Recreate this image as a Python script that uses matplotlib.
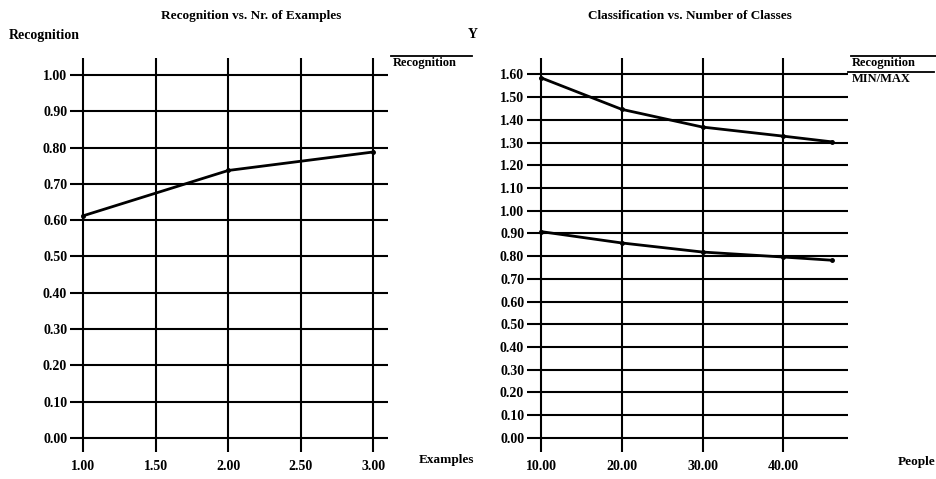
import matplotlib.pyplot as plt

plt.rcParams["font.family"] = ["Liberation Serif", "DejaVu Serif"]
plt.rcParams["font.weight"] = "bold"

# left chart: recognition vs. number of examples
examples = [1.0, 2.0, 3.0]
recognition = [0.612, 0.737, 0.788]
examples_ticks = [1.0, 1.5, 2.0, 2.5, 3.0]
left_yticks = [i / 10 for i in range(11)]

# right chart: classification vs. number of classes
people = [10, 20, 30, 40, 46]
rec_max = [1.585, 1.446, 1.368, 1.328, 1.303]
rec_min = [0.908, 0.858, 0.818, 0.796, 0.782]
people_ticks = [10, 20, 30, 40]
right_yticks = [i / 10 for i in range(17)]

W, H = 937, 479
fig = plt.figure(figsize=(W / 100, H / 100), dpi=100)


def fx(px):
    return px / W


def fy(py):
    return 1 - py / H


def style_axis(ax):
    for side in ax.spines.values():
        side.set_visible(False)
    ax.grid(True, color="black", linewidth=1.5)
    ax.set_axisbelow(True)
    ax.tick_params(length=0, labelsize=10, pad=2)
    for lab in ax.get_xticklabels() + ax.get_yticklabels():
        lab.set_fontweight("bold")
    ax.tick_params(axis="x", pad=6)


ax1 = fig.add_axes([fx(70), fy(452), fx(388 - 70), (452 - 58) / H])
ax1.plot(examples, recognition, color="black", linewidth=2, marker="o", markersize=2.5)
ax1.set_xlim(0.91, 3.10)
ax1.set_ylim(-0.039, 1.047)
ax1.set_xticks(examples_ticks)
ax1.set_xticklabels([f"{v:.2f}" for v in examples_ticks])
ax1.set_yticks(left_yticks)
ax1.set_yticklabels([f"{v:.2f}" for v in left_yticks])
style_axis(ax1)

ax2 = fig.add_axes([fx(527), fy(452), fx(848 - 527), (452 - 58) / H])
ax2.plot(people, rec_max, color="black", linewidth=2, marker="o", markersize=2.5)
ax2.plot(people, rec_min, color="black", linewidth=2, marker="o", markersize=2.5)
ax2.set_xlim(8.27, 48.0)
ax2.set_ylim(-0.062, 1.672)
ax2.set_xticks(people_ticks)
ax2.set_xticklabels([f"{v:.2f}" for v in people_ticks])
ax2.set_yticks(right_yticks)
ax2.set_yticklabels([f"{v:.2f}" for v in right_yticks])
style_axis(ax2)

# titles and axis captions
fig.text(fx(251), fy(16), "Recognition vs. Nr. of Examples", ha="center", va="center",
         fontsize=9.5, fontweight="bold")
fig.text(fx(690), fy(16), "Classification vs. Number of Classes", ha="center", va="center",
         fontsize=9.5, fontweight="bold")
fig.text(fx(9), fy(36), "Recognition", ha="left", va="center", fontsize=10, fontweight="bold")
fig.text(fx(478), fy(34), "Y", ha="right", va="center", fontsize=10, fontweight="bold")
fig.text(fx(419), fy(460), "Examples", ha="left", va="center", fontsize=9.5, fontweight="bold")
fig.text(fx(898), fy(462), "People", ha="left", va="center", fontsize=9.5, fontweight="bold")

# legend boxes drawn by hand, like the original
fig.add_artist(plt.Line2D([fx(391), fx(472)], [fy(56), fy(56)], color="black", linewidth=1.3))
fig.text(fx(393), fy(63), "Recognition", ha="left", va="center", fontsize=9, fontweight="bold")

fig.add_artist(plt.Line2D([fx(851), fx(937)], [fy(56), fy(56)], color="black", linewidth=1.3))
fig.text(fx(852), fy(63), "Recognition", ha="left", va="center", fontsize=9, fontweight="bold")
fig.add_artist(plt.Line2D([fx(848), fx(934)], [fy(72), fy(72)], color="black", linewidth=1.3))
fig.text(fx(852), fy(79), "MIN/MAX", ha="left", va="center", fontsize=9, fontweight="bold")

fig.savefig("out.png", dpi=100)
